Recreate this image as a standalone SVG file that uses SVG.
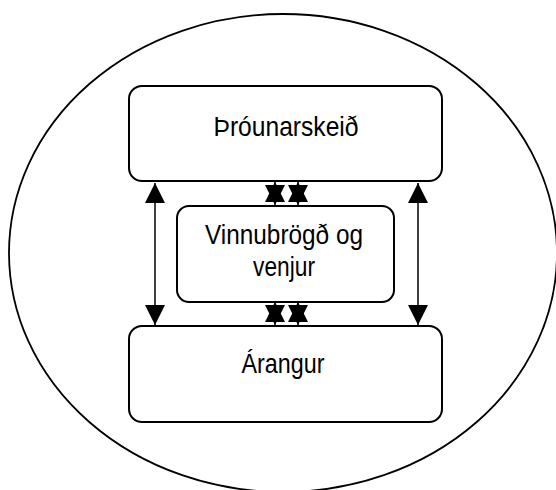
<svg xmlns="http://www.w3.org/2000/svg" width="556" height="490" viewBox="0 0 556 490">
<style>
.box{fill:#fff;stroke:#000;stroke-width:2}
.lbl{font-family:"Liberation Sans",Arial,sans-serif;font-size:28px;fill:#000;text-anchor:middle}
.con{stroke:#000;stroke-width:1.5;fill:none;marker-start:url(#ah);marker-end:url(#ah)}
</style>
<defs>
<marker id="ah" markerUnits="userSpaceOnUse" markerWidth="20" markerHeight="20" refX="20" refY="10" orient="auto-start-reverse" viewBox="0 0 20 20">
<path d="M0,0 L20,10 L0,20 z" fill="#000"/>
</marker>
</defs>
<rect width="556" height="490" fill="#fff"/>
<g id="frame">
<ellipse cx="283" cy="253" rx="274" ry="239" fill="none" stroke="#000" stroke-width="1.8"/>
</g>
<g id="node-throunarskeid">
<rect class="box" x="129" y="86" width="313" height="95" rx="13"/>
<text class="lbl" x="286" y="136" textLength="145" lengthAdjust="spacingAndGlyphs">Þróunarskeið</text>
</g>
<g id="node-vinnubrogd">
<rect class="box" x="177" y="206" width="217" height="96" rx="12"/>
<text class="lbl" x="284" y="244" textLength="158" lengthAdjust="spacingAndGlyphs">Vinnubrögð og</text>
<text class="lbl" x="284" y="276" textLength="62" lengthAdjust="spacingAndGlyphs">venjur</text>
</g>
<g id="node-arangur">
<rect class="box" x="129" y="326" width="313" height="96" rx="13"/>
<text class="lbl" x="283" y="373" textLength="83" lengthAdjust="spacingAndGlyphs">Árangur</text>
</g>
<g id="connectors">
<line class="con" x1="155" y1="183" x2="155" y2="325"/>
<line class="con" x1="418" y1="183" x2="418" y2="325"/>
<line class="con" x1="275" y1="182" x2="275" y2="205"/>
<line class="con" x1="298" y1="182" x2="298" y2="205"/>
<line class="con" x1="275" y1="302" x2="275" y2="325"/>
<line class="con" x1="298" y1="302" x2="298" y2="325"/>
</g>
</svg>
